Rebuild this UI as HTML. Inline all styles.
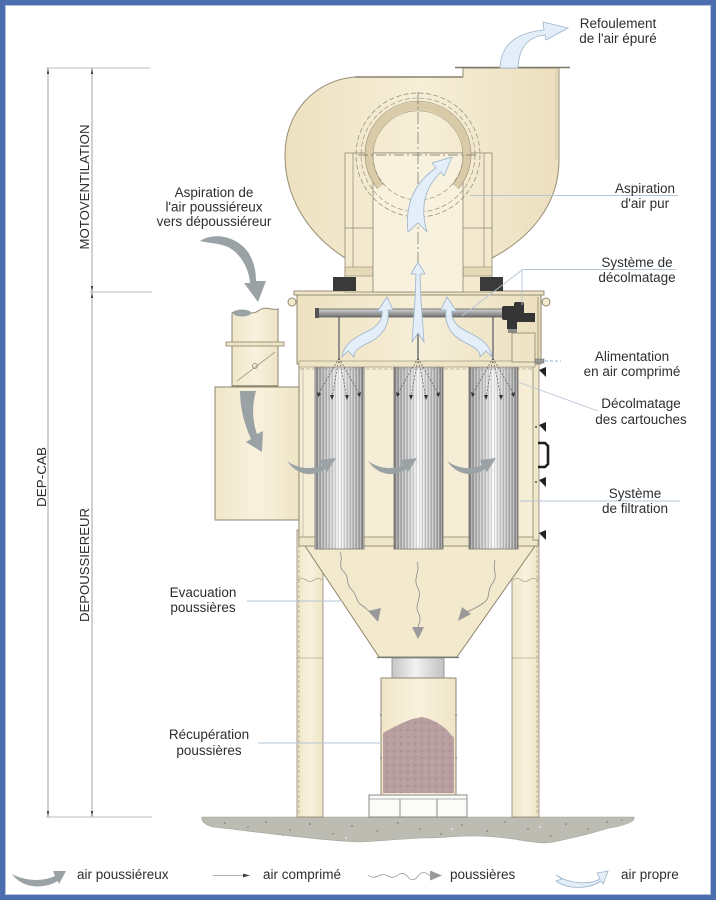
<!DOCTYPE html>
<html><head><meta charset="utf-8">
<style>
html,body{margin:0;padding:0;background:#fff;}
svg{display:block;}
text{font-family:"Liberation Sans",Arial,sans-serif;fill:#2e2e2e;}
</style></head>
<body>
<svg width="716" height="900" viewBox="0 0 716 900" xmlns="http://www.w3.org/2000/svg">
<defs>
 <linearGradient id="cart" x1="0" x2="1" y1="0" y2="0">
  <stop offset="0" stop-color="#7a7a7a"/>
  <stop offset="0.1" stop-color="#a6a6a6"/>
  <stop offset="0.35" stop-color="#d0d0d0"/>
  <stop offset="0.5" stop-color="#f4f4f4"/>
  <stop offset="0.65" stop-color="#d0d0d0"/>
  <stop offset="0.9" stop-color="#a6a6a6"/>
  <stop offset="1" stop-color="#7a7a7a"/>
 </linearGradient>
 <pattern id="pleat" width="3" height="10" patternUnits="userSpaceOnUse">
  <rect x="0" y="0" width="1" height="10" fill="#ffffff" opacity="0.35"/>
  <rect x="2" y="0" width="0.7" height="10" fill="#555" opacity="0.22"/>
 </pattern>
 <linearGradient id="cream" x1="0" x2="1">
  <stop offset="0" stop-color="#ede1c0"/>
  <stop offset="0.5" stop-color="#f6eed7"/>
  <stop offset="1" stop-color="#ebdfbe"/>
 </linearGradient>
 <linearGradient id="creamv" x1="0" x2="1">
  <stop offset="0" stop-color="#f0e6c9"/>
  <stop offset="0.5" stop-color="#f8f1dd"/>
  <stop offset="1" stop-color="#efe4c6"/>
 </linearGradient>
 <linearGradient id="neck" x1="0" x2="1">
  <stop offset="0" stop-color="#c6c6c6"/>
  <stop offset="0.45" stop-color="#f2f2f2"/>
  <stop offset="1" stop-color="#c2c2c2"/>
 </linearGradient>
 <linearGradient id="pipe" x1="0" x2="0" y1="0" y2="1">
  <stop offset="0" stop-color="#d8d8d8"/>
  <stop offset="0.5" stop-color="#a0a0a0"/>
  <stop offset="1" stop-color="#707070"/>
 </linearGradient>
 <pattern id="dust" width="7" height="7" patternUnits="userSpaceOnUse">
  <rect width="7" height="7" fill="#b99ea0"/>
  <circle cx="2" cy="2" r="0.6" fill="#8c7072"/>
  <circle cx="5" cy="5" r="0.5" fill="#e2d0d0"/>
 </pattern>
</defs>

<!-- frame -->
<rect x="2.5" y="2.5" width="711" height="895" fill="none" stroke="#4b6cae" stroke-width="5"/>
<rect x="5.5" y="5.5" width="705" height="889" fill="none" stroke="#b3c3df" stroke-width="1"/>

<!-- dimension lines -->
<g stroke="#8c8c8c" stroke-width="0.8">
 <line x1="48" y1="68" x2="48" y2="817"/>
 <line x1="92" y1="68" x2="92" y2="817"/>
</g>
<g stroke="#bcbcbc" stroke-width="1">
 <line x1="46" y1="68" x2="150" y2="68"/>
 <line x1="90" y1="292" x2="152" y2="292"/>
 <line x1="46" y1="817" x2="152" y2="817"/>
</g>
<g fill="#444">
 <polygon points="48,68 46.8,74 49.2,74"/>
 <polygon points="92,68 90.8,74 93.2,74"/>
 <polygon points="92,292 90.8,286 93.2,286"/>
 <polygon points="92,292 90.8,298 93.2,298"/>
 <polygon points="48,817 46.8,811 49.2,811"/>
 <polygon points="92,817 90.8,811 93.2,811"/>
</g>
<text transform="translate(89,187) rotate(-90)" text-anchor="middle" font-size="12.5" textLength="125" lengthAdjust="spacingAndGlyphs">MOTOVENTILATION</text>
<text transform="translate(46,477) rotate(-90)" text-anchor="middle" font-size="12.5" textLength="60" lengthAdjust="spacingAndGlyphs">DEP-CAB</text>
<text transform="translate(89,565) rotate(-90)" text-anchor="middle" font-size="12.5" textLength="114" lengthAdjust="spacingAndGlyphs">DEPOUSSIEREUR</text>

<!-- ground -->
<path d="M202,817 L634,817 C636,822 622,826 609,828 C596,832 585,835 576,837 C562,840 552,843 543,843 C530,842 520,840 513,839 C498,837 485,836 473,836 C455,836 440,838 423,838 C400,839 380,841 360,842 C335,841 318,839 300,837 C270,834 240,830 213,827 C205,825 201,821 202,817 Z" fill="#bcbcb2" stroke="#a4a49a" stroke-width="0.6"/>
<g fill="#6f6f68">
 <circle cx="225" cy="823" r="0.8"/><circle cx="248" cy="827" r="0.7"/><circle cx="266" cy="822" r="0.8"/>
 <circle cx="290" cy="830" r="0.7"/><circle cx="310" cy="824" r="0.9"/><circle cx="333" cy="834" r="0.7"/>
 <circle cx="352" cy="826" r="0.8"/><circle cx="377" cy="831" r="0.7"/><circle cx="398" cy="823" r="0.8"/>
 <circle cx="420" cy="829" r="0.7"/><circle cx="441" cy="834" r="0.8"/><circle cx="462" cy="825" r="0.7"/>
 <circle cx="487" cy="831" r="0.8"/><circle cx="505" cy="822" r="0.7"/><circle cx="528" cy="829" r="0.8"/>
 <circle cx="551" cy="836" r="0.7"/><circle cx="566" cy="824" r="0.8"/><circle cx="588" cy="829" r="0.7"/>
 <circle cx="607" cy="822" r="0.8"/><circle cx="622" cy="820" r="0.6"/><circle cx="283" cy="835" r="0.6"/>
</g>
<g fill="#e8e8e2">
 <circle cx="240" cy="831" r="1"/><circle cx="346" cy="838" r="1"/><circle cx="452" cy="829" r="1"/><circle cx="540" cy="827" r="1"/>
</g>

<!-- legs -->
<rect x="297" y="530" width="26" height="287" fill="url(#creamv)" stroke="#8f866f" stroke-width="0.8"/>
<rect x="512" y="530" width="27" height="287" fill="url(#creamv)" stroke="#8f866f" stroke-width="0.8"/>
<g stroke="#8f866f" stroke-width="0.6" fill="none">
 <line x1="299" y1="545" x2="299" y2="815" stroke-dasharray="3 2"/>
 <line x1="537" y1="545" x2="537" y2="815" stroke-dasharray="3 2"/>
 <line x1="297" y1="658" x2="323" y2="658"/>
 <line x1="512" y1="658" x2="539" y2="658"/>
 <path d="M298,580 q4,-3 8,0 t8,0 t8,0"/>
 <path d="M513,580 q4,-3 8,0 t8,0 t9,0"/>
</g>

<!-- hopper -->
<polygon points="305,546 535,546 457,657 379,657" fill="#f3e9cd" stroke="#8f866f" stroke-width="1"/>
<line x1="377" y1="657.5" x2="459" y2="657.5" stroke="#777" stroke-width="1.2"/>

<!-- neck -->
<rect x="392" y="658" width="52" height="20" fill="url(#neck)" stroke="#8a8a8a" stroke-width="0.8"/>
<!-- bin -->
<rect x="381" y="678" width="75" height="117" fill="url(#creamv)" stroke="#8f866f" stroke-width="1"/>
<path d="M383,793 L383,733 C393,727 404,722 412,719 L422,717 C432,719 440,724 446,729 L454,738 L454,793 Z" fill="url(#dust)"/>
<g fill="#777"><circle cx="381" cy="715" r="0.9"/><circle cx="381" cy="758" r="0.9"/><circle cx="456" cy="715" r="0.9"/><circle cx="456" cy="758" r="0.9"/></g>
<!-- pallet -->
<rect x="369" y="795" width="98" height="22" fill="#fbfbf8" stroke="#8a8a8a" stroke-width="1"/>
<line x1="369" y1="799" x2="467" y2="799" stroke="#9a9a9a" stroke-width="0.8"/>
<line x1="400" y1="799" x2="400" y2="817" stroke="#8a8a8a" stroke-width="1"/>
<line x1="437" y1="799" x2="437" y2="817" stroke="#8a8a8a" stroke-width="1"/>

<!-- filter housing -->
<rect x="299" y="364" width="235" height="176" fill="#f5edd6" stroke="#8f866f" stroke-width="1"/>
<rect x="299" y="537" width="239" height="9" fill="#efe5c8" stroke="#8f866f" stroke-width="0.8"/>
<rect x="533" y="364" width="6" height="176" fill="#f1e7cb" stroke="#8f866f" stroke-width="0.8"/>
<line x1="303" y1="368" x2="303" y2="537" stroke="#b0a78f" stroke-width="0.6"/>
<!-- door hardware -->
<g fill="#222">
 <polygon points="539,370 546,367 546,377"/>
 <polygon points="539,425 546,422 546,432"/>
 <polygon points="539,480 546,477 546,487"/>
 <polygon points="539,533 546,530 546,540"/>
 <circle cx="536" cy="427" r="0.9"/><circle cx="536" cy="482" r="0.9"/>
</g>
<path d="M538,443 L545,443 L548,446 L548,464 L545,467 L538,467" fill="none" stroke="#1f1f1f" stroke-width="2.6"/>

<!-- cartridges -->
<g stroke="#707070" stroke-width="0.8">
 <rect x="315" y="367" width="49" height="182" fill="url(#cart)"/>
 <rect x="394" y="367" width="49" height="182" fill="url(#cart)"/>
 <rect x="469" y="367" width="49" height="182" fill="url(#cart)"/>
</g>
<g>
 <rect x="315" y="367" width="49" height="182" fill="url(#pleat)"/>
 <rect x="394" y="367" width="49" height="182" fill="url(#pleat)"/>
 <rect x="469" y="367" width="49" height="182" fill="url(#pleat)"/>
</g>
<g stroke="#ffffff" stroke-width="1" stroke-dasharray="5 3" opacity="0.9">
 <line x1="339.5" y1="400" x2="339.5" y2="545"/>
 <line x1="418.5" y1="400" x2="418.5" y2="545"/>
 <line x1="493.5" y1="400" x2="493.5" y2="545"/>
</g>

<!-- plenum -->
<rect x="297" y="292" width="244" height="72" fill="url(#cream)" stroke="#8f866f" stroke-width="1"/>
<rect x="294" y="291" width="250" height="4" fill="#efe4c6" stroke="#7f7763" stroke-width="0.8"/>
<rect x="299" y="361" width="236" height="6" fill="#efe4c6" stroke="#8f866f" stroke-width="0.6"/>
<line x1="300" y1="369" x2="532" y2="369" stroke="#8f866f" stroke-width="0.6" stroke-dasharray="4 2"/>
<!-- lugs -->
<circle cx="292" cy="302" r="4" fill="#f3e9cd" stroke="#8f866f" stroke-width="1"/>
<circle cx="546" cy="302" r="4" fill="#f3e9cd" stroke="#8f866f" stroke-width="1"/>
<line x1="538" y1="297" x2="538" y2="362" stroke="#8f866f" stroke-width="0.8"/>

<!-- drop tubes -->
<g stroke="#7a7a7a" stroke-width="1.6">
 <line x1="339" y1="317" x2="339" y2="358"/>
 <line x1="418" y1="317" x2="418" y2="358"/>
 <line x1="493" y1="317" x2="493" y2="358"/>
</g>
<!-- pipe -->
<rect x="318" y="309" width="186" height="8" fill="url(#pipe)" stroke="#5f5f5f" stroke-width="0.8"/>
<rect x="315" y="308" width="4" height="10" fill="#555"/>
<!-- valve -->
<g fill="#353535">
 <rect x="502" y="306" width="14" height="14" rx="2"/>
 <rect x="514" y="302" width="10" height="20" rx="2"/>
 <rect x="523" y="313" width="12" height="9"/>
 <rect x="507" y="319" width="10" height="10"/>
</g>
<rect x="508" y="329" width="9" height="4" fill="#8a8a8a"/>
<rect x="512" y="333" width="23" height="29" fill="#efe4c6" stroke="#8f866f" stroke-width="0.8"/>
<!-- compressed air inlet -->
<rect x="535" y="359" width="9" height="4" fill="#999" stroke="#666" stroke-width="0.5"/>
<line x1="545" y1="361" x2="561" y2="361" stroke="#8fb0cc" stroke-width="1" stroke-dasharray="3 2"/>

<!-- pulse jets -->
<g stroke="#4a4a4a" stroke-width="0.6" stroke-dasharray="2 1.5" fill="none">
 <path d="M339,358 L318,395 M339,358 L332,398 M339,358 L347,398 M339,358 L360,395"/>
 <path d="M418,358 L397,395 M418,358 L411,398 M418,358 L426,398 M418,358 L439,395"/>
 <path d="M493,358 L472,395 M493,358 L486,398 M493,358 L501,398 M493,358 L514,395"/>
</g>
<g fill="#333">
 <polygon points="318,397 317,392 321,394"/><polygon points="332,400 330,395 334,395"/><polygon points="347,400 345,395 349,395"/><polygon points="360,397 357,394 361,392"/>
 <polygon points="397,397 396,392 400,394"/><polygon points="411,400 409,395 413,395"/><polygon points="426,400 424,395 428,395"/><polygon points="439,397 436,394 440,392"/>
 <polygon points="472,397 471,392 475,394"/><polygon points="486,400 484,395 488,395"/><polygon points="501,400 499,395 503,395"/><polygon points="514,397 511,394 515,392"/>
</g>

<!-- inlet duct -->
<rect x="215" y="387" width="84" height="133" fill="url(#creamv)" stroke="#8f866f" stroke-width="1"/>
<path d="M232,313 C240,307 250,317 258,311 C266,305 272,311 278,309 L278,387 L232,387 Z" fill="url(#creamv)" stroke="#8f866f" stroke-width="1"/>
<ellipse cx="242" cy="313" rx="9" ry="3.5" fill="#9aa2a5"/>
<rect x="226" y="342" width="58" height="4" fill="#efe4c6" stroke="#8f866f" stroke-width="0.8"/>
<line x1="237" y1="381" x2="275" y2="352" stroke="#8f866f" stroke-width="0.7"/>
<circle cx="255" cy="366" r="2.5" fill="none" stroke="#8f866f" stroke-width="0.8"/>
<line x1="232" y1="386" x2="278" y2="386" stroke="#8f866f" stroke-width="1.5"/>

<!-- fan housing -->
<path d="M355,77 L463,77 L463,68 L559,68 L559,160 C559,205 530,238 492,258 L345,258 C305,232 285,195 285,155 C285,112 315,80 355,77 Z" fill="url(#cream)" stroke="#978d74" stroke-width="1"/>
<line x1="355" y1="77" x2="463" y2="77" stroke="#8a8270" stroke-width="1.5"/>
<line x1="455" y1="67.5" x2="570" y2="67.5" stroke="#7f7868" stroke-width="1.5"/>
<line x1="556" y1="70" x2="556" y2="160" stroke="#c9bfa3" stroke-width="0.8"/>

<!-- pedestal -->
<rect x="345" y="153" width="147" height="139" fill="#f3e9cf" stroke="#8f866f" stroke-width="0.8"/>
<g stroke="#8f866f" stroke-width="0.7">
 <line x1="353" y1="153" x2="353" y2="267"/>
 <line x1="484" y1="153" x2="484" y2="267"/>
 <line x1="345" y1="228" x2="373" y2="228"/>
 <line x1="463" y1="228" x2="492" y2="228"/>
</g>
<rect x="345" y="267" width="28" height="9" fill="#e6d9b7" stroke="#8f866f" stroke-width="0.6"/>
<rect x="463" y="267" width="29" height="9" fill="#e6d9b7" stroke="#8f866f" stroke-width="0.6"/>
<rect x="373" y="153" width="90" height="139" fill="#f8f1de" stroke="#8f866f" stroke-width="0.8"/>

<!-- fan eye -->
<circle cx="418" cy="155" r="62" fill="none" stroke="#8f866f" stroke-width="0.7" stroke-dasharray="5 2.5"/>
<circle cx="418" cy="155" r="57" fill="none" stroke="#8f866f" stroke-width="0.6" stroke-dasharray="5 2.5"/>
<path d="M380.5,186.5 A49,49 0 1 1 455.5,186.5" fill="none" stroke="#d9cba7" stroke-width="8"/>
<path d="M377.4,188.3 A53,53 0 1 1 458.6,188.3" fill="none" stroke="#9a9078" stroke-width="0.6"/>
<path d="M383.5,184.7 A45,45 0 1 1 452.5,184.7" fill="none" stroke="#9a9078" stroke-width="0.6"/>
<path d="M373,155 A45,45 0 0 0 463,155" fill="none" stroke="#8f866f" stroke-width="0.6" stroke-dasharray="5 2.5"/>
<line x1="358" y1="155" x2="478" y2="155" stroke="#6f6a5c" stroke-width="0.7" stroke-dasharray="10 3 2 3"/>
<line x1="418" y1="92" x2="418" y2="292" stroke="#6f6a5c" stroke-width="0.7" stroke-dasharray="12 3 2 3"/>

<!-- blocks -->
<rect x="333" y="277" width="23" height="14" fill="#3a3a3a"/>
<rect x="480" y="277" width="23" height="14" fill="#3a3a3a"/>

<!-- leader lines -->
<g stroke="#b6c5d3" stroke-width="0.9" fill="none">
 <line x1="470" y1="195.5" x2="678" y2="195.5"/>
 <path d="M522,305 L522,269.5 L676,269.5"/>
 <line x1="522" y1="270" x2="462" y2="316"/>
 <path d="M518,382 L598,411"/>
 <line x1="520" y1="501" x2="680" y2="501"/>
 <line x1="247" y1="601" x2="342" y2="601"/>
 <line x1="258" y1="743" x2="381" y2="743"/>
</g>

<!-- dust wavy arrows -->
<g stroke="#8a8a8a" stroke-width="0.8" fill="none">
 <path d="M340,552 C344,560 337,566 344,572 C350,578 345,584 352,590 C358,596 355,602 363,606 C367,609 368,611 372,613"/>
 <path d="M417,562 C421,572 412,578 418,588 C423,598 413,605 419,614 C422,620 418,624 418,628"/>
 <path d="M495,560 C492,570 499,576 492,584 C486,592 492,598 482,604 C476,608 472,610 466,612"/>
</g>
<g fill="#9a9a9a">
 <polygon points="368,611 381,608 378,622"/>
 <polygon points="412,627 424,627 418,639"/>
 <polygon points="462,607 471,614 458,621"/>
</g>

<!-- grey arrows (air poussiereux) -->
<g fill="#9aa2a5">
 <path d="M200,241 C214,232 236,236 248,252 C254,261 256,271 256,281 L266,281 L258,302 L244,283 L250,283 C249,268 240,253 228,247 C218,243 208,243 200,241 Z"/>
 <path d="M240,391 L256,391 C252,405 252,420 257,434 L263,431 L262,452 L246,442 L251,439 C244,424 240,407 240,391 Z"/>
 <path id="sw" d="M287,461 C298,469 312,470 322,465 L320,460 L336,458 L327,472 L325,469 C312,478 297,475 287,461 Z"/>
 <path d="M368,461 C379,469 393,470 403,465 L401,460 L417,458 L408,472 L406,469 C393,478 378,475 368,461 Z"/>
 <path d="M447,461 C458,469 472,470 482,465 L480,460 L496,458 L487,472 L485,469 C472,478 457,475 447,461 Z"/>
</g>

<!-- blue arrows (air propre) -->
<g fill="#e3eef8" stroke="#9bb4cb" stroke-width="0.8">
 <path d="M500,68 C501,46 514,33 544,30 L543,22 L568,28 L546,40 L545,35 C527,37 519,48 518,68 Z"/>
 <path d="M408,232 C405,205 414,183 436,168 L432,163 L452,157 L444,176 L441,172 C424,188 420,208 427,232 L418,223 Z"/>
 <path d="M412,342 L415,300 L416,274 L411,274 L418,262 L425,274 L420,274 L421,300 L424,342 L418,333 Z"/>
 <path d="M342,357 C344,343 356,337 368,331 C378,326 383,319 382,311 L377,312 L387,297 L393,310 L388,310 C390,325 382,336 370,342 C360,347 353,351 354,357 L348,351 Z"/>
 <path transform="translate(834,0) scale(-1,1)" d="M342,357 C344,343 356,337 368,331 C378,326 383,319 382,311 L377,312 L387,297 L393,310 L388,310 C390,325 382,336 370,342 C360,347 353,351 354,357 L348,351 Z"/>
</g>

<!-- labels -->
<g font-size="13.5" text-anchor="middle">
 <text x="618" y="28">Refoulement</text>
 <text x="618" y="43">de l'air épuré</text>
 <text x="645" y="193">Aspiration</text>
 <text x="645" y="208">d'air pur</text>
 <text x="637" y="267">Système de</text>
 <text x="637" y="282">décolmatage</text>
 <text x="632" y="361">Alimentation</text>
 <text x="632" y="376">en air comprimé</text>
 <text x="641" y="408">Décolmatage</text>
 <text x="641" y="424">des cartouches</text>
 <text x="635" y="498">Système</text>
 <text x="635" y="513">de filtration</text>
 <text x="214" y="197">Aspiration de</text>
 <text x="214" y="211.5">l'air poussiéreux</text>
 <text x="214" y="226">vers dépoussiéreur</text>
 <text x="203" y="597">Evacuation</text>
 <text x="203" y="612">poussières</text>
 <text x="209" y="739">Récupération</text>
 <text x="209" y="755">poussières</text>
</g>

<!-- legend -->
<path d="M12,874 C25,881 42,882 55,876 L53,871 L66,871 L59,884 L58,881 C42,890 22,888 12,874 Z" fill="#9aa2a5"/>
<line x1="213" y1="875.5" x2="244" y2="875.5" stroke="#9a9a9a" stroke-width="0.8"/>
<polygon points="243,873.5 250,875.5 243,877.5" fill="#444"/>
<path d="M368,875 q5,4 10,1 t10,0 t10,-1 t10,2 t10,-1 t12,0" fill="none" stroke="#9a9a9a" stroke-width="0.8"/>
<polygon points="430,870.5 442,875.5 430,880.5" fill="#9a9a9a"/>
<path d="M556,875 C569,884 590,885 600,879 L597,873 L608,871 L603,884 L601,881 C588,890 567,889 556,881 L562,879 Z" fill="#e3eef8" stroke="#9bb4cb" stroke-width="0.8"/>
<g font-size="13.5">
 <text x="77" y="879">air poussiéreux</text>
 <text x="263" y="879">air comprimé</text>
 <text x="450" y="879">poussières</text>
 <text x="621" y="879">air propre</text>
</g>
</svg>
</body></html>
